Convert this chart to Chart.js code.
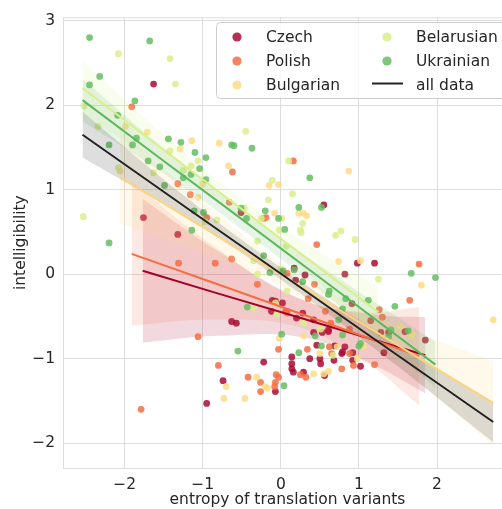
<!DOCTYPE html>
<html>
<head>
<meta charset="utf-8">
<script src="https://cdn.jsdelivr.net/npm/chart.js@4.4.0/dist/chart.umd.min.js"></script>
<style>
  html, body { margin: 0; padding: 0; background: #fff; overflow: hidden; }
  #wrap { width: 516px; height: 509px; }
</style>
</head>
<body>
<div id="wrap"><canvas id="chart" width="516" height="509"></canvas></div>
<script>
// languages, colours
const languages = ["Czech", "Polish", "Bulgarian", "Belarusian", "Ukrainian"];
const pointColors = ["rgba(168,12,52,0.85)", "rgba(244,109,67,0.85)", "rgba(254,220,135,0.85)", "rgba(217,239,139,0.85)", "rgba(102,189,99,0.85)"];
const lineColors = ["#a50026", "#f46d43", "#fdd47e", "#d9ef8b", "#5cb85c"];
const bandColors = ["rgba(165,0,38,0.15)", "rgba(244,109,67,0.15)", "rgba(253,212,126,0.15)", "rgba(217,239,139,0.15)", "rgba(92,184,92,0.15)"];

// [entropy, intelligibility] per word
const czechPts = [[-1.63,2.25],[-0.51,0.73],[-1.76,0.67],[-1.32,0.47],[-0.63,-0.56],[-0.57,-0.58],[-0.74,-1.26],[-0.95,-1.53],[-0.22,-1.04],[0.14,-0.98],[0.14,-1.06],[0.14,-1.12],[0.16,-1.16],[-0.07,-1.39],[0.37,-1.00],[0.46,-0.84],[0.50,-1.00],[0.51,-1.06],[0.69,-0.85],[0.82,-0.86],[0.68,-1.02],[0.78,-0.94],[0.79,-0.92],[0.92,-0.93],[0.92,-1.02],[1.02,-1.09],[0.29,-1.16],[0.56,-1.20],[0.42,-0.69],[0.61,-0.68],[1.32,-0.93],[0.98,0.13],[1.20,0.13],[0.82,0.00],[0.91,-0.35],[1.59,-0.68],[1.85,-0.78],[1.38,-0.69],[1.28,-0.69],[0.53,-0.69],[0.55,0.82],[0.17,0.07],[0.31,-0.01],[0.19,-0.07],[0.02,-0.34],[0.28,-0.46],[0.20,-0.52],[0.42,-0.54],[0.61,-0.66],[-0.11,-0.31],[-0.07,-0.32],[-0.12,-0.44],[0.07,-0.44],[1.15,-0.55]];
const polishPts = [[-1.91,1.98],[-0.62,1.21],[-1.32,1.07],[-1.16,0.94],[-0.95,0.67],[-0.66,0.85],[-0.63,0.18],[-1.31,0.13],[-0.84,0.13],[-0.30,-0.12],[-1.06,-0.74],[-0.80,-1.08],[-0.42,-1.22],[-1.79,-1.60],[-0.26,-1.28],[-0.26,-1.39],[-0.06,-1.19],[-0.03,-1.22],[-0.07,-1.28],[-0.08,-1.33],[-0.03,-0.89],[0.34,-0.89],[0.62,-0.86],[0.65,-0.94],[0.88,-0.94],[0.93,-1.08],[1.20,-1.07],[0.25,-1.19],[0.32,-1.22],[0.78,-1.12],[1.77,0.12],[1.65,-0.31],[1.26,-0.42],[1.30,-0.51],[0.88,-0.65],[0.16,1.34],[-0.22,0.66],[-0.19,0.67],[0.46,0.35],[0.43,-0.12],[0.35,-0.29],[0.57,-0.44],[0.06,-0.44],[0.08,-0.46],[0.64,-0.58],[0.08,0.01]];
const bulgarianPts = [[-1.99,1.75],[-1.71,1.68],[-1.14,1.58],[-1.29,1.48],[-0.79,1.55],[-0.67,1.28],[-2.06,1.22],[-1.00,1.07],[-1.06,0.91],[-0.70,-1.33],[-0.31,-1.22],[-0.73,-1.47],[-0.46,-1.47],[-0.02,-0.76],[-0.20,-1.33],[-0.17,-1.35],[0.50,-0.94],[0.72,-0.86],[0.98,-1.00],[0.42,-1.18],[0.55,-1.18],[0.61,-1.15],[0.29,-0.73],[1.06,-0.85],[0.74,0.15],[1.02,0.16],[1.80,-0.13],[1.53,-0.62],[1.68,-0.72],[2.72,-0.54],[-0.15,1.05],[-0.03,1.06],[-0.08,0.72],[0.87,1.22],[0.23,0.72],[0.29,0.72],[0.33,0.69]];
const belarusianPts = [[-2.08,2.61],[-1.42,2.55],[-1.35,2.25],[-2.52,1.99],[-2.34,1.75],[-1.42,1.46],[-0.45,1.69],[-1.06,1.34],[-1.63,1.20],[-1.25,1.23],[-1.15,1.28],[-2.08,1.26],[-0.97,0.62],[-0.82,0.64],[-0.47,0.78],[-2.53,0.68],[-0.30,0.39],[-0.35,-0.40],[-0.35,0.16],[-0.30,0.00],[0.00,0.06],[-0.07,-0.34],[-0.05,-0.47],[0.08,-0.20],[0.29,-0.58],[0.51,-0.65],[0.67,-0.96],[-0.16,0.88],[-0.11,1.11],[-0.25,0.66],[0.10,1.34],[0.15,0.95],[0.01,0.66],[0.28,0.60],[-0.02,0.52],[0.25,0.52],[0.70,0.46],[0.77,0.51],[0.95,0.41],[0.26,0.49],[0.07,0.33],[1.25,-0.06]];
const ukrainianPts = [[-2.45,2.80],[-1.68,2.76],[-2.32,2.34],[-2.45,2.24],[-1.87,2.05],[-2.09,1.88],[-1.85,1.61],[-1.44,1.60],[-2.20,1.53],[-1.90,1.53],[-1.28,1.56],[-1.10,1.44],[-0.63,1.53],[-0.60,1.52],[-0.37,1.49],[-1.70,1.34],[-0.96,1.38],[-1.55,1.27],[-1.04,1.25],[-1.15,1.18],[-1.25,1.14],[-0.96,1.12],[-1.49,1.05],[-1.11,0.75],[-0.99,0.73],[-0.51,0.78],[-0.44,0.66],[-1.14,0.52],[-2.20,0.37],[-0.43,-0.39],[-0.55,-0.91],[0.01,-0.71],[0.04,-1.32],[0.23,-0.93],[0.52,-0.85],[0.44,-0.73],[0.79,-0.72],[1.02,-0.82],[1.00,-0.85],[1.67,0.01],[1.98,-0.04],[1.46,-0.38],[1.12,-0.31],[0.74,-0.54],[1.41,-0.66],[1.63,-0.67],[1.38,-0.74],[0.03,0.04],[0.17,0.05],[0.28,-0.09],[0.62,-0.20],[0.61,-0.24],[0.83,-0.29],[0.79,-0.41],[-0.22,0.22],[-0.14,0.02],[0.37,1.14],[0.52,0.79],[0.23,0.79],[0.05,0.53],[-0.20,0.75],[-0.03,0.66]];

// regression lines and their confidence bands
const czechFitX = [-1.77, -0.8, 0.3, 1.2, 1.85];
const czechFitY = [0.04, -0.23, -0.53, -0.78, -0.96];
const czechHi = [0.89, 0.27, -0.31, -0.48, -0.51];
const czechLo = [-0.81, -0.73, -0.75, -1.08, -1.41];

const polishFitX = [-1.91, -0.9, 0.2, 1.1, 1.77];
const polishFitY = [0.24, -0.09, -0.45, -0.75, -0.97];
const polishHi = [1.09, 0.36, -0.28, -0.45, -0.39];
const polishLo = [-0.61, -0.54, -0.62, -1.05, -1.55];

const bulgarianFitX = [-2.06, -0.9, 0.1, 1.3, 2.72];
const bulgarianFitY = [1.15, 0.50, -0.06, -0.73, -1.53];
const bulgarianHi = [1.70, 0.78, 0.07, -0.53, -1.03];
const bulgarianLo = [0.60, 0.22, -0.19, -0.93, -2.03];

const belarusianFitX = [-2.54, -1.5, -0.6, 0.3, 1.25];
const belarusianFitY = [2.20, 1.47, 0.84, 0.21, -0.45];
const belarusianHi = [2.52, 1.65, 0.96, 0.38, -0.15];
const belarusianLo = [1.88, 1.29, 0.72, 0.04, -0.75];

const ukrainianFitX = [-2.54, -1.5, -0.6, 0.6, 1.98];
const ukrainianFitY = [2.06, 1.34, 0.72, -0.11, -1.07];
const ukrainianHi = [2.31, 1.49, 0.84, 0.04, -0.80];
const ukrainianLo = [1.81, 1.19, 0.60, -0.26, -1.34];

const allFitX = [-2.54, -1.2, -0.1, 1.2, 2.72];
const allFitY = [1.65, 0.78, 0.07, -0.77, -1.75];
const allHi = [1.92, 0.90, 0.14, -0.66, -1.51];
const allLo = [1.38, 0.66, 0.00, -0.88, -1.99];

const xTicks = [-2, -1, 0, 1, 2];
const yTicks = [-2, -1, 0, 1, 2, 3];
const legendLabels = ["Czech", "Polish", "Bulgarian", "Belarusian", "Ukrainian", "all data"];

const pts = (pairs) => pairs.map((p) => ({ x: p[0], y: p[1] }));
const xy = (xs, ys) => xs.map((x, i) => ({ x, y: ys[i] }));

const groups = [
  { pts: czechPts, fx: czechFitX, fy: czechFitY, hi: czechHi, lo: czechLo },
  { pts: polishPts, fx: polishFitX, fy: polishFitY, hi: polishHi, lo: polishLo },
  { pts: bulgarianPts, fx: bulgarianFitX, fy: bulgarianFitY, hi: bulgarianHi, lo: bulgarianLo },
  { pts: belarusianPts, fx: belarusianFitX, fy: belarusianFitY, hi: belarusianHi, lo: belarusianLo },
  { pts: ukrainianPts, fx: ukrainianFitX, fy: ukrainianFitY, hi: ukrainianHi, lo: ukrainianLo }
];

// datasets in drawing order, bottom to top
const datasets = [];
const band = (xs, hi, lo, color) => {
  datasets.push({ data: xy(xs, hi), showLine: true, borderWidth: 0, pointRadius: 0, tension: 0.4, fill: "+1", backgroundColor: color });
  datasets.push({ data: xy(xs, lo), showLine: true, borderWidth: 0, pointRadius: 0, tension: 0.4, fill: false });
};
groups.forEach((g, i) => {
  datasets.push({
    data: pts(g.pts), showLine: false, pointRadius: 3.4, pointBorderWidth: 0,
    pointBackgroundColor: pointColors[i], backgroundColor: pointColors[i]
  });
  band(g.fx, g.hi, g.lo, bandColors[i]);
});
band(allFitX, allHi, allLo, "rgba(34,34,34,0.15)");
groups.forEach((g, i) => {
  datasets.push({ data: xy(g.fx, g.fy), showLine: true, borderColor: lineColors[i], borderWidth: 2, pointRadius: 0, fill: false });
});
datasets.push({ data: xy(allFitX, allFitY), showLine: true, borderColor: "#222222", borderWidth: 2, pointRadius: 0, fill: false });
datasets.forEach((d, i) => { d.order = 100 - i; });

const font = { family: "DejaVu Sans", size: 15.5 };
const textColor = "#262626";
const gridColor = "#dddddd";
const minus = (v) => (v < 0 ? "\u2212" + Math.abs(v) : "" + v);

// two-column legend box in the upper right
const legendPlugin = {
  id: "langLegend",
  afterDatasetsDraw(chart) {
    const ctx = chart.ctx;
    ctx.save();
    ctx.beginPath();
    ctx.roundRect(216.5, 22.5, 320, 76, 4);
    ctx.fillStyle = "rgba(255,255,255,0.8)";
    ctx.fill();
    ctx.strokeStyle = "#cccccc";
    ctx.lineWidth = 1;
    ctx.stroke();

    const rowsY = [37, 61, 85];
    ctx.font = "15.5px 'DejaVu Sans'";
    ctx.textBaseline = "alphabetic";
    legendLabels.forEach((label, i) => {
      const col = Math.floor(i / 3);
      const y = rowsY[i % 3];
      const mx = col === 0 ? 237 : 387;
      const tx = col === 0 ? 266 : 416;
      if (i < 5) {
        ctx.beginPath();
        ctx.arc(mx, y, 4.6, 0, Math.PI * 2);
        ctx.fillStyle = pointColors[i];
        ctx.fill();
      } else {
        ctx.beginPath();
        ctx.moveTo(372, y - 1.5);
        ctx.lineTo(403, y - 1.5);
        ctx.strokeStyle = "#222222";
        ctx.lineWidth = 2;
        ctx.stroke();
      }
      ctx.fillStyle = textColor;
      ctx.fillText(label, tx, y + 5);
    });
    ctx.restore();
  },
  beforeDatasetsDraw(chart) {
    const { ctx, chartArea } = chart;
    ctx.save();
    ctx.strokeStyle = gridColor;
    ctx.lineWidth = 1;
    ctx.beginPath();
    ctx.moveTo(chartArea.left, chartArea.top + 0.5);
    ctx.lineTo(chartArea.right, chartArea.top + 0.5);
    ctx.stroke();
    ctx.restore();
  }
};

new Chart(document.getElementById("chart").getContext("2d"), {
  type: "line",
  data: { datasets },
  options: {
    responsive: false,
    animation: false,
    devicePixelRatio: 1,
    layout: { padding: { top: 15, right: 0, left: 0, bottom: 0 } },
    plugins: { legend: { display: false }, tooltip: { enabled: false } },
    scales: {
      x: {
        type: "linear",
        min: -2.79,
        max: 2.96,
        afterBuildTicks: (s) => { s.ticks = xTicks.map((v) => ({ value: v })); },
        afterFit: (s) => { s.height = 41; s.paddingLeft = 0; s.paddingRight = 0; },
        grid: { color: gridColor, drawTicks: false },
        border: { color: gridColor },
        ticks: { font, color: textColor, padding: 8, callback: minus },
        title: { display: true, text: "entropy of translation variants", font, color: textColor, padding: 0 }
      },
      y: {
        type: "linear",
        min: -2.294,
        max: 3.04,
        afterBuildTicks: (s) => { s.ticks = yTicks.map((v) => ({ value: v })); },
        afterFit: (s) => { s.width = 63; },
        grid: { color: gridColor, drawTicks: false },
        border: { color: gridColor },
        ticks: { font, color: textColor, padding: 8, callback: minus },
        title: { display: true, text: "intelligibility", font, color: textColor, padding: { top: 12, bottom: 0 } }
      }
    }
  },
  plugins: [legendPlugin]
});
</script>
</body>
</html>
